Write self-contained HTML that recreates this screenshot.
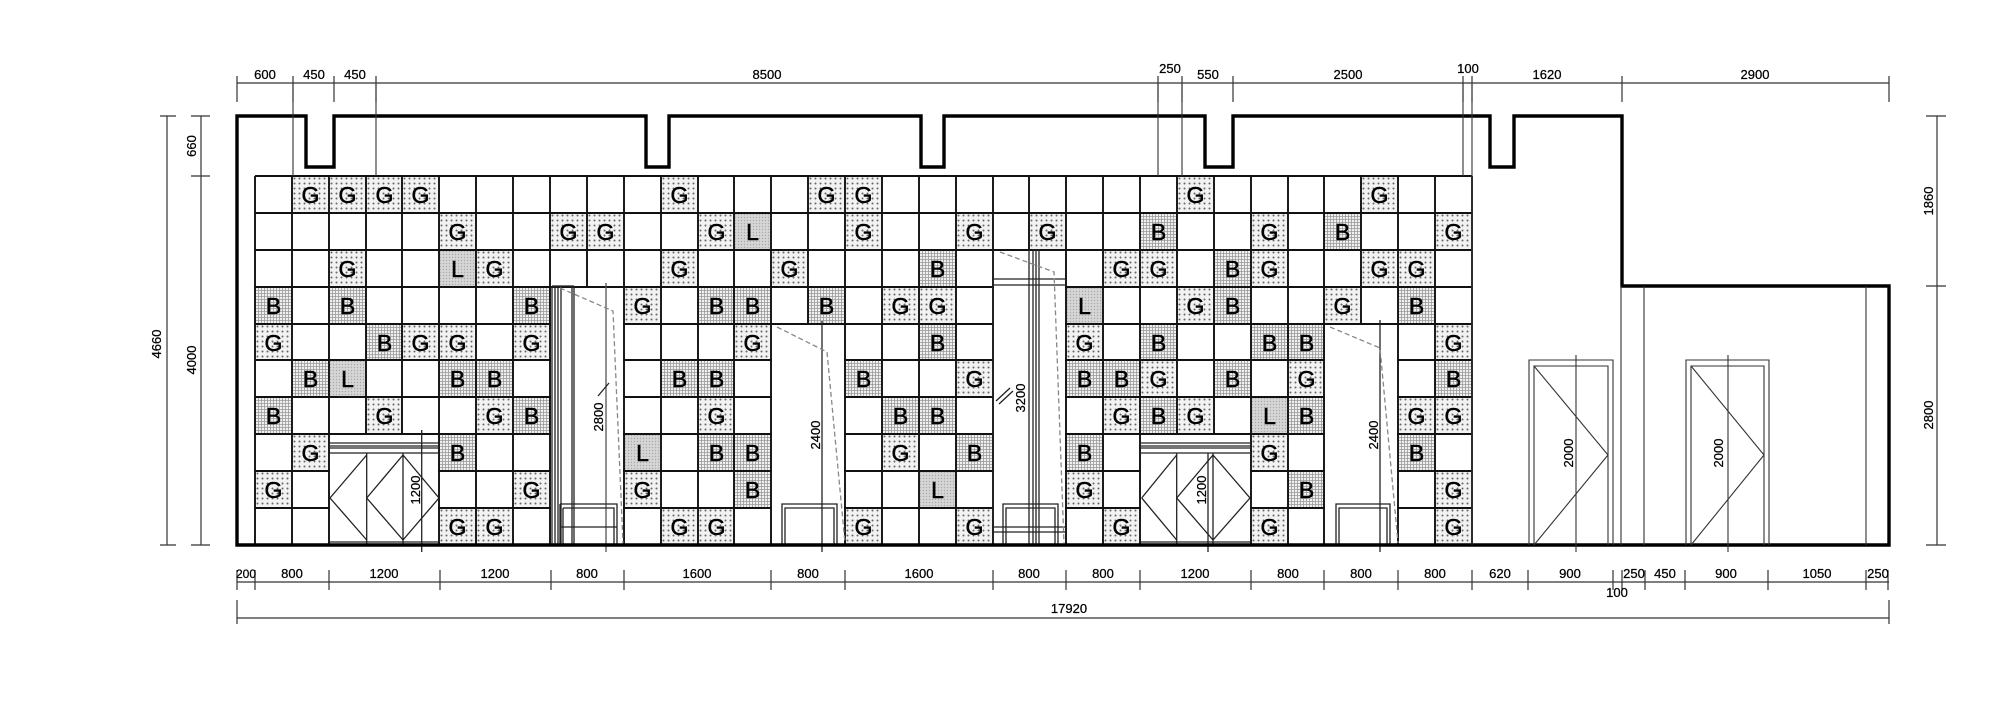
<!DOCTYPE html>
<html><head><meta charset="utf-8">
<style>
html,body{margin:0;padding:0;background:#fff;}
svg{display:block;}
.c rect{width:37px;height:37px;stroke:none;}
.c .G{fill:url(#pg);}
.c .B{fill:url(#pb);}
.c .L{fill:url(#pl);}
.c text{font-family:"Liberation Sans",sans-serif;font-size:23px;text-anchor:middle;fill:#000;stroke:#000;stroke-width:0.5px;}
.d{font-family:"Liberation Sans",sans-serif;font-size:13px;text-anchor:middle;fill:#000;stroke:#000;stroke-width:0.25px;}
</style></head>
<body>
<svg width="2000" height="708" viewBox="0 0 2000 708" xmlns="http://www.w3.org/2000/svg">
<defs>
<pattern id="pg" width="5" height="5" patternUnits="userSpaceOnUse"><rect width="5" height="5" fill="#f2f2f2"/><circle cx="2.5" cy="2.5" r="1" fill="#666"/></pattern>
<pattern id="pb" width="3" height="3" patternUnits="userSpaceOnUse"><rect width="3" height="3" fill="#f0f0f0"/><path d="M0 0.5H3M0.5 0V3" stroke="#999" stroke-width="0.8"/></pattern>
<pattern id="pl" width="3" height="3" patternUnits="userSpaceOnUse"><rect width="3" height="3" fill="#d6d6d6"/><circle cx="1.5" cy="1.5" r="0.7" fill="#aaa"/></pattern>
</defs>
<rect width="2000" height="708" fill="#fff"/>

<g class="c">
<svg x="292" y="176"><rect class="G"/><text x="18.5" y="27">G</text></svg>
<svg x="329" y="176"><rect class="G"/><text x="18.5" y="27">G</text></svg>
<svg x="366" y="176"><rect class="G"/><text x="18.5" y="27">G</text></svg>
<svg x="402" y="176"><rect class="G"/><text x="18.5" y="27">G</text></svg>
<svg x="661" y="176"><rect class="G"/><text x="18.5" y="27">G</text></svg>
<svg x="808" y="176"><rect class="G"/><text x="18.5" y="27">G</text></svg>
<svg x="845" y="176"><rect class="G"/><text x="18.5" y="27">G</text></svg>
<svg x="1177" y="176"><rect class="G"/><text x="18.5" y="27">G</text></svg>
<svg x="1361" y="176"><rect class="G"/><text x="18.5" y="27">G</text></svg>
<svg x="439" y="213"><rect class="G"/><text x="18.5" y="27">G</text></svg>
<svg x="550" y="213"><rect class="G"/><text x="18.5" y="27">G</text></svg>
<svg x="587" y="213"><rect class="G"/><text x="18.5" y="27">G</text></svg>
<svg x="698" y="213"><rect class="G"/><text x="18.5" y="27">G</text></svg>
<svg x="845" y="213"><rect class="G"/><text x="18.5" y="27">G</text></svg>
<svg x="956" y="213"><rect class="G"/><text x="18.5" y="27">G</text></svg>
<svg x="1029" y="213"><rect class="G"/><text x="18.5" y="27">G</text></svg>
<svg x="1251" y="213"><rect class="G"/><text x="18.5" y="27">G</text></svg>
<svg x="1435" y="213"><rect class="G"/><text x="18.5" y="27">G</text></svg>
<svg x="734" y="213"><rect class="L"/><text x="18.5" y="27">L</text></svg>
<svg x="1140" y="213"><rect class="B"/><text x="18.5" y="27">B</text></svg>
<svg x="1324" y="213"><rect class="B"/><text x="18.5" y="27">B</text></svg>
<svg x="329" y="250"><rect class="G"/><text x="18.5" y="27">G</text></svg>
<svg x="476" y="250"><rect class="G"/><text x="18.5" y="27">G</text></svg>
<svg x="661" y="250"><rect class="G"/><text x="18.5" y="27">G</text></svg>
<svg x="771" y="250"><rect class="G"/><text x="18.5" y="27">G</text></svg>
<svg x="1103" y="250"><rect class="G"/><text x="18.5" y="27">G</text></svg>
<svg x="1140" y="250"><rect class="G"/><text x="18.5" y="27">G</text></svg>
<svg x="1251" y="250"><rect class="G"/><text x="18.5" y="27">G</text></svg>
<svg x="1361" y="250"><rect class="G"/><text x="18.5" y="27">G</text></svg>
<svg x="1398" y="250"><rect class="G"/><text x="18.5" y="27">G</text></svg>
<svg x="439" y="250"><rect class="L"/><text x="18.5" y="27">L</text></svg>
<svg x="919" y="250"><rect class="B"/><text x="18.5" y="27">B</text></svg>
<svg x="1214" y="250"><rect class="B"/><text x="18.5" y="27">B</text></svg>
<svg x="255" y="287"><rect class="B"/><text x="18.5" y="27">B</text></svg>
<svg x="329" y="287"><rect class="B"/><text x="18.5" y="27">B</text></svg>
<svg x="513" y="287"><rect class="B"/><text x="18.5" y="27">B</text></svg>
<svg x="698" y="287"><rect class="B"/><text x="18.5" y="27">B</text></svg>
<svg x="734" y="287"><rect class="B"/><text x="18.5" y="27">B</text></svg>
<svg x="808" y="287"><rect class="B"/><text x="18.5" y="27">B</text></svg>
<svg x="1214" y="287"><rect class="B"/><text x="18.5" y="27">B</text></svg>
<svg x="1398" y="287"><rect class="B"/><text x="18.5" y="27">B</text></svg>
<svg x="624" y="287"><rect class="G"/><text x="18.5" y="27">G</text></svg>
<svg x="882" y="287"><rect class="G"/><text x="18.5" y="27">G</text></svg>
<svg x="919" y="287"><rect class="G"/><text x="18.5" y="27">G</text></svg>
<svg x="1177" y="287"><rect class="G"/><text x="18.5" y="27">G</text></svg>
<svg x="1324" y="287"><rect class="G"/><text x="18.5" y="27">G</text></svg>
<svg x="1066" y="287"><rect class="L"/><text x="18.5" y="27">L</text></svg>
<svg x="255" y="324"><rect class="G"/><text x="18.5" y="27">G</text></svg>
<svg x="402" y="324"><rect class="G"/><text x="18.5" y="27">G</text></svg>
<svg x="439" y="324"><rect class="G"/><text x="18.5" y="27">G</text></svg>
<svg x="513" y="324"><rect class="G"/><text x="18.5" y="27">G</text></svg>
<svg x="734" y="324"><rect class="G"/><text x="18.5" y="27">G</text></svg>
<svg x="1066" y="324"><rect class="G"/><text x="18.5" y="27">G</text></svg>
<svg x="1435" y="324"><rect class="G"/><text x="18.5" y="27">G</text></svg>
<svg x="366" y="324"><rect class="B"/><text x="18.5" y="27">B</text></svg>
<svg x="919" y="324"><rect class="B"/><text x="18.5" y="27">B</text></svg>
<svg x="1140" y="324"><rect class="B"/><text x="18.5" y="27">B</text></svg>
<svg x="1251" y="324"><rect class="B"/><text x="18.5" y="27">B</text></svg>
<svg x="1288" y="324"><rect class="B"/><text x="18.5" y="27">B</text></svg>
<svg x="292" y="360"><rect class="B"/><text x="18.5" y="27">B</text></svg>
<svg x="439" y="360"><rect class="B"/><text x="18.5" y="27">B</text></svg>
<svg x="476" y="360"><rect class="B"/><text x="18.5" y="27">B</text></svg>
<svg x="661" y="360"><rect class="B"/><text x="18.5" y="27">B</text></svg>
<svg x="698" y="360"><rect class="B"/><text x="18.5" y="27">B</text></svg>
<svg x="845" y="360"><rect class="B"/><text x="18.5" y="27">B</text></svg>
<svg x="1066" y="360"><rect class="B"/><text x="18.5" y="27">B</text></svg>
<svg x="1103" y="360"><rect class="B"/><text x="18.5" y="27">B</text></svg>
<svg x="1214" y="360"><rect class="B"/><text x="18.5" y="27">B</text></svg>
<svg x="1435" y="360"><rect class="B"/><text x="18.5" y="27">B</text></svg>
<svg x="329" y="360"><rect class="L"/><text x="18.5" y="27">L</text></svg>
<svg x="956" y="360"><rect class="G"/><text x="18.5" y="27">G</text></svg>
<svg x="1140" y="360"><rect class="G"/><text x="18.5" y="27">G</text></svg>
<svg x="1288" y="360"><rect class="G"/><text x="18.5" y="27">G</text></svg>
<svg x="255" y="397"><rect class="B"/><text x="18.5" y="27">B</text></svg>
<svg x="513" y="397"><rect class="B"/><text x="18.5" y="27">B</text></svg>
<svg x="882" y="397"><rect class="B"/><text x="18.5" y="27">B</text></svg>
<svg x="919" y="397"><rect class="B"/><text x="18.5" y="27">B</text></svg>
<svg x="1140" y="397"><rect class="B"/><text x="18.5" y="27">B</text></svg>
<svg x="1288" y="397"><rect class="B"/><text x="18.5" y="27">B</text></svg>
<svg x="366" y="397"><rect class="G"/><text x="18.5" y="27">G</text></svg>
<svg x="476" y="397"><rect class="G"/><text x="18.5" y="27">G</text></svg>
<svg x="698" y="397"><rect class="G"/><text x="18.5" y="27">G</text></svg>
<svg x="1103" y="397"><rect class="G"/><text x="18.5" y="27">G</text></svg>
<svg x="1177" y="397"><rect class="G"/><text x="18.5" y="27">G</text></svg>
<svg x="1398" y="397"><rect class="G"/><text x="18.5" y="27">G</text></svg>
<svg x="1435" y="397"><rect class="G"/><text x="18.5" y="27">G</text></svg>
<svg x="1251" y="397"><rect class="L"/><text x="18.5" y="27">L</text></svg>
<svg x="292" y="434"><rect class="G"/><text x="18.5" y="27">G</text></svg>
<svg x="882" y="434"><rect class="G"/><text x="18.5" y="27">G</text></svg>
<svg x="1251" y="434"><rect class="G"/><text x="18.5" y="27">G</text></svg>
<svg x="439" y="434"><rect class="B"/><text x="18.5" y="27">B</text></svg>
<svg x="698" y="434"><rect class="B"/><text x="18.5" y="27">B</text></svg>
<svg x="734" y="434"><rect class="B"/><text x="18.5" y="27">B</text></svg>
<svg x="956" y="434"><rect class="B"/><text x="18.5" y="27">B</text></svg>
<svg x="1066" y="434"><rect class="B"/><text x="18.5" y="27">B</text></svg>
<svg x="1398" y="434"><rect class="B"/><text x="18.5" y="27">B</text></svg>
<svg x="624" y="434"><rect class="L"/><text x="18.5" y="27">L</text></svg>
<svg x="255" y="471"><rect class="G"/><text x="18.5" y="27">G</text></svg>
<svg x="513" y="471"><rect class="G"/><text x="18.5" y="27">G</text></svg>
<svg x="624" y="471"><rect class="G"/><text x="18.5" y="27">G</text></svg>
<svg x="1066" y="471"><rect class="G"/><text x="18.5" y="27">G</text></svg>
<svg x="1435" y="471"><rect class="G"/><text x="18.5" y="27">G</text></svg>
<svg x="734" y="471"><rect class="B"/><text x="18.5" y="27">B</text></svg>
<svg x="1288" y="471"><rect class="B"/><text x="18.5" y="27">B</text></svg>
<svg x="919" y="471"><rect class="L"/><text x="18.5" y="27">L</text></svg>
<svg x="439" y="508"><rect class="G"/><text x="18.5" y="27">G</text></svg>
<svg x="476" y="508"><rect class="G"/><text x="18.5" y="27">G</text></svg>
<svg x="661" y="508"><rect class="G"/><text x="18.5" y="27">G</text></svg>
<svg x="698" y="508"><rect class="G"/><text x="18.5" y="27">G</text></svg>
<svg x="845" y="508"><rect class="G"/><text x="18.5" y="27">G</text></svg>
<svg x="956" y="508"><rect class="G"/><text x="18.5" y="27">G</text></svg>
<svg x="1103" y="508"><rect class="G"/><text x="18.5" y="27">G</text></svg>
<svg x="1251" y="508"><rect class="G"/><text x="18.5" y="27">G</text></svg>
<svg x="1435" y="508"><rect class="G"/><text x="18.5" y="27">G</text></svg>
</g>

<g stroke="#111" stroke-width="1.9" fill="none">
<path d="M255 176V545M292 176V545M329 176V545M366 176V545M402 176V545M439 176V545M476 176V545M513 176V545M550 176V545M587 176V545M624 176V545M661 176V545M698 176V545M734 176V545M771 176V545M808 176V545M845 176V545M882 176V545M919 176V545M956 176V545M993 176V545M1029 176V545M1066 176V545M1103 176V545M1140 176V545M1177 176V545M1214 176V545M1251 176V545M1288 176V545M1324 176V545M1361 176V545M1398 176V545M1435 176V545M1472 176V545"/>
<path d="M255 176H1472M255 213H1472M255 250H1472M255 287H1472M255 324H1472M255 360H1472M255 397H1472M255 434H1472M255 471H1472M255 508H1472"/>
</g>

<g fill="#fff">
<rect x="551" y="288" width="72" height="256"/>
<rect x="772" y="325" width="72" height="219"/>
<rect x="994" y="251" width="71" height="293"/>
<rect x="1325" y="325" width="72" height="219"/>
<rect x="330" y="435" width="108" height="109"/>
<rect x="1141" y="435" width="109" height="109"/>
</g>

<g stroke="#222" stroke-width="1.3" fill="none">
<path d="M552 286V545M555 286V545M558 286V545M561 286V545M572 286V545M574 286V545M552 286H574"/>
<path d="M606 283V552" stroke="#555"/>
<path d="M560 504H617V545M560 504V545M563 508H614V545M563 508V545M560 527H617"/>
<path d="M560 288L613 311L623 543" stroke="#888" stroke-dasharray="5,3"/>
<path d="M598 396L609 383"/>
<path d="M822 321V552"/>
<path d="M782 545V504H837V545M785 545V508H834V545"/>
<path d="M777 327L827 352L845 543" stroke="#888" stroke-dasharray="5,3"/>
<path d="M993 250V545M1029 249V545M1033 249V545M1036 249V545M1039 249V545M993 279H1066M993 285H1066M993 527H1066M993 532H1066"/>
<path d="M1003 545V504H1058V545M1006 545V508H1055V545"/>
<path d="M1000 252L1054 272L1064 543" stroke="#888" stroke-dasharray="5,3"/>
<path d="M996 401L1010 388M999 404L1013 391"/>
<path d="M1380 320V552"/>
<path d="M1336 545V504H1390V545M1339 545V508H1387V545"/>
<path d="M1330 327L1380 348L1398 543" stroke="#888" stroke-dasharray="5,3"/>
<path d="M330 443H439M330 446H439M330 448H439M330 453H439M330 542H439M366.7 453V545M403 453V545"/>
<path d="M330 498L366.7 455M330 498L366.7 540M366.7 498L403 455M366.7 498L403 540M403 455L439 498L403 540"/>
<path d="M421.7 430V552"/>
<path d="M1140 443H1251M1140 446H1251M1140 448H1251M1140 453H1251M1140 542H1251M1176.7 453V545M1208 453V552M1213 453V545"/>
<path d="M1141.7 498L1176.7 455M1141.7 498L1176.7 540M1176.7 498L1213 455M1176.7 498L1213 540M1213 455L1250 498L1213 540"/>
</g>

<path d="M237 545V116H306V167H334V116H646V167H669V116H921V167H944V116H1205V167H1233V116H1490V167H1514V116H1622V286H1889V545Z" fill="none" stroke="#000" stroke-width="3.4"/>

<g stroke="#333" stroke-width="1.1" fill="none">
<path d="M293 83V176M376 83V176M1158 83V176M1182 83V176M1463 83V176M1472 83V545"/>
<path d="M1621 286V545M1644 286V545M1866 286V545"/>
<path d="M1529 545V360H1613V545M1534 545V366H1608V545"/>
<path d="M1534 366L1608 455L1534 545M1576 355V552"/>
<path d="M1686 545V360H1769V545M1691 545V366H1764V545"/>
<path d="M1691 366L1764 455L1691 545M1728 355V552"/>
</g>

<g stroke="#333" stroke-width="1.2" fill="none">
<path d="M237 83H1889"/>
<path d="M237 76V102M293 76V102M334 76V102M376 76V102M1158 76V102M1182 76V102M1233 76V102M1463 76V102M1472 76V102M1622 76V102M1889 76V102"/>
<path d="M167 116V545M160 116H176M160 545H176"/>
<path d="M201 116V545M191 116H210M191 176H210M191 545H210"/>
<path d="M1937 116V545M1926 116H1946M1926 286H1946M1926 545H1946"/>
<path d="M237 582H1889"/>
<path d="M237 570V590M255 570V590M329 570V590M440 570V590M551 570V590M624 570V590M771 570V590M845 570V590M993 570V590M1066 570V590M1140 570V590M1251 570V590M1324 570V590M1398 570V590M1472 570V590M1528 570V590M1613 570V590M1622 570V590M1645 570V590M1685 570V590M1768 570V590M1866 570V590M1888 570V590"/>
<path d="M237 618H1889M237 600V624M1889 600V624"/>
</g>

<g class="d">
<text x="265" y="79">600</text>
<text x="314" y="79">450</text>
<text x="355" y="79">450</text>
<text x="767" y="79">8500</text>
<text x="1170" y="73">250</text>
<text x="1208" y="79">550</text>
<text x="1348" y="79">2500</text>
<text x="1468" y="73">100</text>
<text x="1547" y="79">1620</text>
<text x="1755" y="79">2900</text>
<text x="246" y="578" style="font-size:12px">200</text>
<text x="292" y="578">800</text>
<text x="384" y="578">1200</text>
<text x="495" y="578">1200</text>
<text x="587" y="578">800</text>
<text x="697" y="578">1600</text>
<text x="808" y="578">800</text>
<text x="919" y="578">1600</text>
<text x="1029" y="578">800</text>
<text x="1103" y="578">800</text>
<text x="1195" y="578">1200</text>
<text x="1288" y="578">800</text>
<text x="1361" y="578">800</text>
<text x="1435" y="578">800</text>
<text x="1500" y="578">620</text>
<text x="1570" y="578">900</text>
<text x="1634" y="578">250</text>
<text x="1617" y="597">100</text>
<text x="1665" y="578">450</text>
<text x="1726" y="578">900</text>
<text x="1817" y="578">1050</text>
<text x="1878" y="578">250</text>
<text x="1069" y="613">17920</text>
<text transform="translate(161,344) rotate(-90)">4660</text>
<text transform="translate(196,146) rotate(-90)">660</text>
<text transform="translate(196,360) rotate(-90)">4000</text>
<text transform="translate(1933,201) rotate(-90)">1860</text>
<text transform="translate(1933,415) rotate(-90)">2800</text>
<text transform="translate(603,417) rotate(-90)">2800</text>
<text transform="translate(820,435) rotate(-90)">2400</text>
<text transform="translate(1025,398) rotate(-90)">3200</text>
<text transform="translate(1378,435) rotate(-90)">2400</text>
<text transform="translate(420,490) rotate(-90)">1200</text>
<text transform="translate(1206,490) rotate(-90)">1200</text>
<text transform="translate(1573,453) rotate(-90)">2000</text>
<text transform="translate(1723,453) rotate(-90)">2000</text>
</g>
</svg>
</body></html>
